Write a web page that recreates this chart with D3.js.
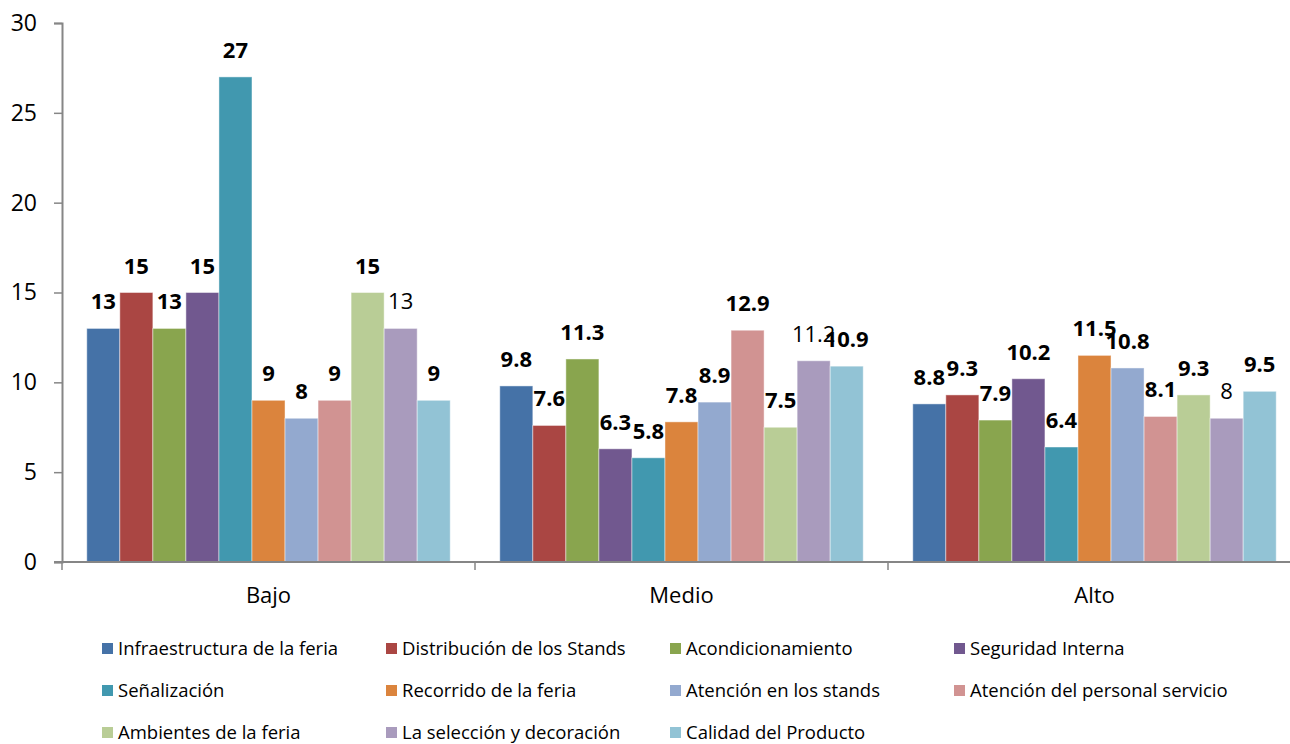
<!DOCTYPE html>
<html>
<head>
<meta charset="utf-8">
<script src="https://cdn.jsdelivr.net/npm/d3@7"></script>
<style>
  html, body { margin: 0; padding: 0; background: #fff; }
  svg { display: block; }
  text { font-family: "Open Sans", "Noto Sans", sans-serif; }
</style>
</head>
<body>
<svg id="chart" width="1290" height="744"></svg>
<script>
// Survey levels (x groups)
const categories = ["Bajo", "Medio", "Alto"];

// Evaluated aspects (one bar per aspect inside each level)
const series = [
  "Infraestructura de la feria",
  "Distribución de los Stands",
  "Acondicionamiento",
  "Seguridad Interna",
  "Señalización",
  "Recorrido de la feria",
  "Atención en los stands",
  "Atención del personal servicio",
  "Ambientes de la feria",
  "La selección y decoración",
  "Calidad del Producto"
];

// Percentages per level, in the order of `series`
const bajo  = [13, 15, 13, 15, 27, 9, 8, 9, 15, 13, 9];
const medio = [9.8, 7.6, 11.3, 6.3, 5.8, 7.8, 8.9, 12.9, 7.5, 11.2, 10.9];
const alto  = [8.8, 9.3, 7.9, 10.2, 6.4, 11.5, 10.8, 8.1, 9.3, 8, 9.5];

const yTicks = [0, 5, 10, 15, 20, 25, 30];

const colors = [
  "#4572A7", "#AA4643", "#89A54E", "#71588F", "#4198AF", "#DB843D",
  "#93A9CF", "#D19392", "#B9CD96", "#A99BBD", "#92C3D5"
];

// Series whose data labels are drawn in regular weight
const plainLabelSeries = ["La selección y decoración"];

const levelValues = [bajo, medio, alto];
const rows = [];
categories.forEach((c, ci) => {
  series.forEach((s, si) => rows.push({ category: c, series: s, value: levelValues[ci][si] }));
});

const svg = d3.select("#chart");
const plotLeft = 62, plotTop = 23, plotBottom = 562;
const bandW = 413;

const x0 = d3.scaleBand()
  .domain(categories)
  .range([plotLeft, plotLeft + bandW * categories.length])
  .paddingInner(0)
  .paddingOuter(0);

const x1 = d3.scaleBand()
  .domain(series)
  .range([0, x0.bandwidth()])
  .paddingOuter(0.75)
  .paddingInner(0);

const y = d3.scaleLinear().domain([0, 30]).range([plotBottom, plotTop]);
const color = d3.scaleOrdinal().domain(series).range(colors);

const axisColor = "#868686";

// Bars
const g = svg.append("g");
g.selectAll("rect.bar")
  .data(rows)
  .join("rect")
  .attr("class", "bar")
  .attr("x", d => x0(d.category) + x1(d.series))
  .attr("y", d => y(d.value))
  .attr("width", x1.bandwidth())
  .attr("height", d => y(0) - y(d.value))
  .attr("fill", d => color(d.series))
  .attr("stroke", "#ffffff")
  .attr("stroke-opacity", 0.45)
  .attr("stroke-width", 1);

// Value labels
g.selectAll("text.val")
  .data(rows)
  .join("text")
  .attr("class", "val")
  .attr("x", d => x0(d.category) + x1(d.series) + x1.bandwidth() / 2)
  .attr("y", d => y(d.value) - 19)
  .attr("text-anchor", "middle")
  .attr("font-size", 22)
  .attr("font-weight", d => plainLabelSeries.includes(d.series) ? 400 : 700)
  .attr("fill", "#000")
  .text(d => d.value);

// Y axis
const yAxis = d3.axisLeft(y).tickValues(yTicks).tickSize(8).tickPadding(17);
const ya = svg.append("g").attr("transform", `translate(${plotLeft},0)`).call(yAxis);
ya.select(".domain").attr("stroke", axisColor).attr("stroke-width", 2);
ya.selectAll(".tick line").attr("stroke", axisColor).attr("stroke-width", 1.5);
ya.selectAll(".tick text")
  .attr("font-size", 23)
  .attr("font-family", "Open Sans, sans-serif")
  .attr("fill", "#000");

// X axis: baseline with boundary ticks between groups
const xa = svg.append("g");
xa.append("line")
  .attr("x1", plotLeft - 8).attr("x2", 1290)
  .attr("y1", y(0)).attr("y2", y(0))
  .attr("stroke", axisColor).attr("stroke-width", 2);
xa.selectAll("line.bt")
  .data(categories)
  .join("line")
  .attr("class", "bt")
  .attr("x1", d => x0(d)).attr("x2", d => x0(d))
  .attr("y1", y(0)).attr("y2", y(0) + 8)
  .attr("stroke", axisColor).attr("stroke-width", 1.5);
xa.selectAll("text")
  .data(categories)
  .join("text")
  .attr("x", d => x0(d) + x0.bandwidth() / 2)
  .attr("y", 603)
  .attr("text-anchor", "middle")
  .attr("font-size", 22)
  .attr("fill", "#000")
  .text(d => d);

// Legend: 4 columns, 3 rows
const legX = [102, 386, 670, 954], legY = [648, 690, 732];
const leg = svg.append("g");
const items = leg.selectAll("g.item")
  .data(series)
  .join("g")
  .attr("class", "item")
  .attr("transform", (d, i) => `translate(${legX[i % 4]},${legY[Math.floor(i / 4)]})`);
items.append("rect")
  .attr("x", 0).attr("y", -5)
  .attr("width", 11).attr("height", 11)
  .attr("fill", d => color(d));
items.append("text")
  .attr("x", 16).attr("y", 7)
  .attr("font-size", 18.5)
  .attr("fill", "#000")
  .text(d => d);
</script>
</body>
</html>
